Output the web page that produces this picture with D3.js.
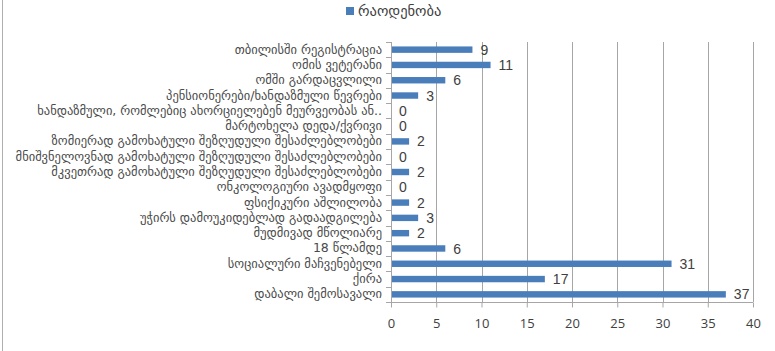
<!DOCTYPE html>
<html>
<head>
<meta charset="utf-8">
<script src="https://cdn.jsdelivr.net/npm/d3@7"></script>
<style>
  html, body { margin: 0; padding: 0; background: #fff; }
  svg { display: block; }
</style>
</head>
<body>
<svg id="chart" width="775" height="351"></svg>
<script>
// Categories, top to bottom
const categories = [
  "თბილისში რეგისტრაცია",
  "ომის ვეტერანი",
  "ომში გარდაცვლილი",
  "პენსიონერები/ხანდაზმული წევრები",
  "ხანდაზმული, რომლებიც ახორციელებენ მეურვეობას ან..",
  "მარტოხელა დედა/ქვრივი",
  "ზომიერად გამოხატული შეზღუდული შესაძლებლობები",
  "მნიშვნელოვნად გამოხატული შეზღუდული შესაძლებლობები",
  "მკვეთრად გამოხატული შეზღუდული შესაძლებლობები",
  "ონკოლოგიური ავადმყოფი",
  "ფსიქიკური აშლილობა",
  "უჭირს დამოუკიდებლად გადაადგილება",
  "მუდმივად მწოლიარე",
  "18 წლამდე",
  "სოციალური მაჩვენებელი",
  "ქირა",
  "დაბალი შემოსავალი"
];
const counts = [9, 11, 6, 3, 0, 0, 2, 0, 2, 0, 2, 3, 2, 6, 31, 17, 37];
const seriesName = "რაოდენობა";
const xTicks = [0, 5, 10, 15, 20, 25, 30, 35, 40];

const svg = d3.select("#chart");
const m = { left: 391, right: 753, top: 42, bottom: 302 };
const barColor = "#4a7ebb";
const gridColor = "#a6a6a6";
const textColor = "#404040";

const x = d3.scaleLinear().domain([0, 40]).range([m.left, m.right]);
const y = d3.scaleBand().domain(categories).range([m.top, m.bottom]).paddingInner(0.58).paddingOuter(0.29);

// frame edge on the left
svg.append("line").attr("x1", 2.5).attr("x2", 2.5).attr("y1", 0).attr("y2", 351)
  .attr("stroke", "#b0b0b0");

// vertical gridlines
svg.append("g").selectAll("line").data(xTicks.filter(d => d > 0)).join("line")
  .attr("x1", d => Math.round(x(d)) + 0.5).attr("x2", d => Math.round(x(d)) + 0.5)
  .attr("y1", m.top).attr("y2", m.bottom)
  .attr("stroke", gridColor).attr("stroke-width", 1);

// bars
svg.append("g").selectAll("rect").data(categories).join("rect")
  .attr("x", x(0))
  .attr("y", d => y(d))
  .attr("width", (d, i) => x(counts[i]) - x(0))
  .attr("height", y.bandwidth())
  .attr("fill", barColor);

// value labels
svg.append("g").selectAll("text").data(categories).join("text")
  .attr("x", (d, i) => x(counts[i]) + 8)
  .attr("y", d => y(d) + y.bandwidth() / 2)
  .attr("dy", "0.36em")
  .attr("font-family", "'Liberation Sans', sans-serif")
  .attr("font-size", 14)
  .attr("fill", textColor)
  .text((d, i) => counts[i]);

// x axis
const xAxis = d3.axisBottom(x).tickValues(xTicks).tickSize(5).tickPadding(11);
const gx = svg.append("g").attr("transform", `translate(0,${m.bottom + 0.5})`).call(xAxis);
gx.select(".domain").attr("stroke", gridColor).attr("d", `M${m.left},0H${m.right}`);
gx.selectAll(".tick line").attr("stroke", gridColor);
gx.selectAll(".tick text")
  .attr("font-family", "'Open Sans', 'Liberation Sans', sans-serif")
  .attr("font-size", 13).attr("fill", textColor);

// y axis with tick marks on category boundaries
const yAxisLine = svg.append("g");
yAxisLine.append("line")
  .attr("x1", m.left + 0.5).attr("x2", m.left + 0.5)
  .attr("y1", m.top).attr("y2", m.bottom + 5)
  .attr("stroke", gridColor);
yAxisLine.selectAll("line.b").data(d3.range(categories.length + 1)).join("line")
  .attr("class", "b")
  .attr("x1", m.left - 5).attr("x2", m.left)
  .attr("y1", i => Math.round(m.top + i * (m.bottom - m.top) / categories.length) + 0.5)
  .attr("y2", i => Math.round(m.top + i * (m.bottom - m.top) / categories.length) + 0.5)
  .attr("stroke", gridColor);

// category labels
svg.append("g").selectAll("text").data(categories).join("text")
  .attr("x", m.left - 9)
  .attr("y", d => y(d) + y.bandwidth() / 2)
  .attr("dy", "0.32em")
  .attr("text-anchor", "end")
  .attr("font-family", "'DejaVu Sans', sans-serif")
  .attr("font-size", 12.5)
  .attr("fill", "#4a4a4a")
  .text(d => d);

// legend
const lg = svg.append("g").attr("transform", "translate(346,7)");
lg.append("rect").attr("width", 8).attr("height", 8).attr("fill", barColor);
lg.append("text").attr("x", 12).attr("y", 9)
  .attr("font-family", "'DejaVu Sans', sans-serif")
  .attr("font-size", 14.5).attr("fill", textColor)
  .text(seriesName);
</script>
</body>
</html>
